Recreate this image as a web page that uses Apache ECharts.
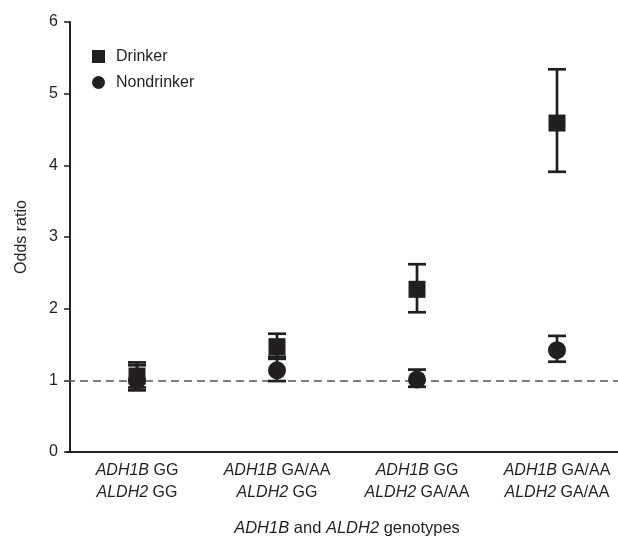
<!DOCTYPE html>
<html>
<head>
<meta charset="utf-8">
<script src="https://cdn.jsdelivr.net/npm/echarts@6/dist/echarts.min.js"></script>
<style>html,body{margin:0;padding:0;background:#fff}#c{width:618px;height:536px}</style>
</head>
<body>
<div id="c"></div>
<script>
const adh1b = ['GG', 'GA/AA', 'GG', 'GA/AA'];
const aldh2 = ['GG', 'GG', 'GA/AA', 'GA/AA'];
const categories = ['c1', 'c2', 'c3', 'c4'];
const drinkerOR = [1.06, 1.47, 2.27, 4.59];
const drinkerLo = [0.90, 1.30, 1.95, 3.91];
const drinkerHi = [1.25, 1.65, 2.62, 5.34];
const nondrinkerOR = [1.00, 1.14, 1.01, 1.42];
const nondrinkerLo = [0.86, 0.99, 0.91, 1.26];
const nondrinkerHi = [1.21, 1.33, 1.15, 1.62];
const yTicks = [0, 1, 2, 3, 4, 5, 6];

const INK = '#231f20';
const FONT = 'Liberation Sans, Arial, sans-serif';

function errData(lo, hi) { return categories.map((c, i) => [i, lo[i], hi[i]]); }
function errRender(params, api) {
  const x = api.value(0);
  const p1 = api.coord([x, api.value(1)]);
  const p2 = api.coord([x, api.value(2)]);
  const hw = 9;
  const st = { stroke: INK, lineWidth: 2.7 };
  return { type: 'group', children: [
    { type: 'line', shape: { x1: p1[0], y1: p1[1], x2: p2[0], y2: p2[1] }, style: st },
    { type: 'line', shape: { x1: p1[0] - hw, y1: p1[1], x2: p1[0] + hw, y2: p1[1] }, style: st },
    { type: 'line', shape: { x1: p2[0] - hw, y1: p2[1], x2: p2[0] + hw, y2: p2[1] }, style: st }
  ]};
}

const chart = echarts.init(document.getElementById('c'), null, { renderer: 'canvas' });
chart.setOption({
  animation: false,
  backgroundColor: '#fff',
  textStyle: { fontFamily: FONT },
  grid: { left: 67, top: 22, bottom: 84, right: -9, containLabel: false, outerBoundsMode: 'none' },
  legend: {
    orient: 'vertical', left: 87, top: 43.5, itemWidth: 13, itemHeight: 13, itemGap: 10,
    textStyle: { fontSize: 16, color: INK, fontFamily: FONT, padding: [0, 0, 0, 6] },
    data: [{ name: 'Drinker', icon: 'rect' }, { name: 'Nondrinker', icon: 'circle' }]
  },
  xAxis: {
    type: 'category', data: categories, boundaryGap: true,
    axisLine: { lineStyle: { color: INK, width: 2 } },
    axisTick: { show: false },
    axisLabel: {
      interval: 0, margin: 8, lineHeight: 22, color: INK, fontSize: 16,
      formatter: (v, i) => '{i|ADH1B} {n|' + adh1b[i] + '}\n{i|ALDH2} {n|' + aldh2[i] + '}',
      rich: {
        i: { fontStyle: 'italic', fontSize: 16, color: INK, fontFamily: FONT, lineHeight: 22 },
        n: { fontSize: 16, color: INK, fontFamily: FONT, lineHeight: 22 }
      }
    },
    name: '{i|ADH1B} and {i|ALDH2} genotypes', nameLocation: 'middle', nameGap: 68,
    nameTextStyle: {
      fontSize: 16.5, color: INK,
      rich: { i: { fontStyle: 'italic', fontSize: 16.5, color: INK, fontFamily: FONT } }
    }
  },
  yAxis: {
    type: 'value', min: 0, max: 6, interval: 1, offset: -3,
    splitLine: { show: false },
    axisLine: { show: true, lineStyle: { color: INK, width: 2 } },
    axisTick: { show: true, length: 6, lineStyle: { color: INK, width: 1.5 } },
    axisLabel: { fontSize: 16, color: INK, margin: 12, formatter: v => yTicks.includes(v) ? String(v) : '' },
    name: 'Odds ratio', nameLocation: 'middle', nameGap: 40,
    nameTextStyle: { fontSize: 16, color: INK }
  },
  series: [
    { type: 'custom', name: 'errD', data: errData(drinkerLo, drinkerHi), renderItem: errRender, encode: { x: 0, y: [1, 2] }, z: 2 },
    { type: 'custom', name: 'errN', data: errData(nondrinkerLo, nondrinkerHi), renderItem: errRender, encode: { x: 0, y: [1, 2] }, z: 2 },
    {
      type: 'scatter', name: 'Nondrinker', symbol: 'circle', symbolSize: 18, z: 3,
      itemStyle: { color: INK, opacity: 1 },
      data: nondrinkerOR.map((v, i) => [i, v]),
      markLine: {
        silent: true, symbol: ['none', 'none'], label: { show: false },
        lineStyle: { color: '#555', type: [8, 5], width: 1.6 },
        data: [{ yAxis: 1 }], z: 1
      }
    },
    {
      type: 'scatter', name: 'Drinker', symbol: 'rect', symbolSize: 17, z: 4,
      itemStyle: { color: INK, opacity: 1 },
      data: drinkerOR.map((v, i) => [i, v])
    }
  ]
});
</script>
</body>
</html>
